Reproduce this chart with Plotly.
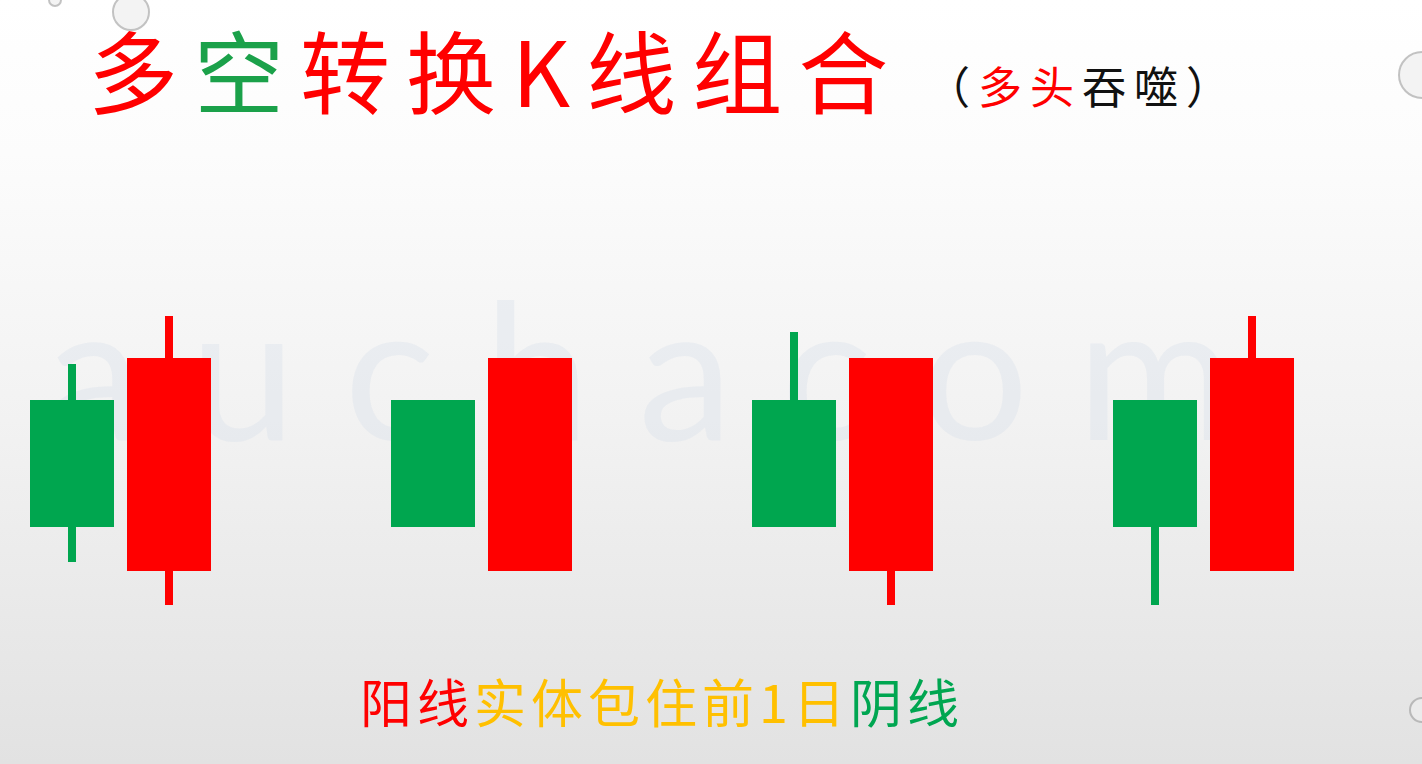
import plotly.graph_objects as go

# ---------------- data (price units) ----------------
pattern_ids = [1, 2, 3, 4]
# Day 1: bearish (阴线)
bear_open  = [30.0, 30.0, 30.0, 30.0]
bear_high  = [33.6, 30.0, 36.8, 30.0]
bear_low   = [13.8, 17.3, 17.3,  9.5]
bear_close = [17.3, 17.3, 17.3, 17.3]
# Day 2: bullish (阳线)
bull_open  = [12.9, 12.9, 12.9, 12.9]
bull_high  = [38.4, 34.2, 34.2, 38.4]
bull_low   = [ 9.5, 12.9,  9.5, 12.9]
bull_close = [34.2, 34.2, 34.2, 34.2]

title_parts = [("多", "#ff0000"), ("空", "#1ba14a"), ("转换K线组合", "#ff0000")]
subtitle_parts = [("（", "#111111"), ("多头", "#ff0000"), ("吞噬", "#111111"), ("）", "#111111")]
caption_parts = [("阳线", "#ff0000"), ("实体包住前1日", "#ffc000"), ("阴线", "#00a651")]
watermark = "a u c h a c o m"

# ---------------- layout constants ----------------
W, H = 1422, 764
PAIR_STEP = 3.7216          # distance between patterns, in day units
BODY_W = 0.866
WICK_W = 0.0825
X_RANGE = [-0.742, 13.918]
Y_RANGE = [-6.4, 70.0]
GREEN = "#00a64f"
RED = "#ff0000"

bear_x = [(k - 1) * PAIR_STEP for k in pattern_ids]
bull_x = [(k - 1) * PAIR_STEP + 1 for k in pattern_ids]

fig = go.Figure()

# background gradient (on the base axes, drawn underneath)
fig.add_trace(go.Scatter(
    x=[0, 1, 1, 0, 0], y=[0, 0, 1, 1, 0],
    mode="lines", line=dict(width=0), fill="toself",
    fillgradient=dict(type="vertical",
                      colorscale=[[0, "#e2e2e2"], [0.45, "#f2f2f2"], [0.8, "#fcfcfc"], [1, "#ffffff"]]),
    hoverinfo="skip", showlegend=False, xaxis="x", yaxis="y"))

# faint watermark behind the candles
fig.add_trace(go.Scatter(
    x=[640 / W], y=[1 - 392 / H], mode="text", text=[watermark],
    textfont=dict(family="Lato", size=190, color="rgba(215,224,234,0.38)"),
    textposition="middle center", hoverinfo="skip", showlegend=False,
    xaxis="x", yaxis="y"))

# decorative water droplets at the edges (pixel centres / diameters)
drop_px = [(131, 12, 36), (1422, 75, 46), (1422, 710, 24), (55, 0, 12)]
fig.add_trace(go.Scatter(
    x=[d[0] / W for d in drop_px], y=[1 - d[1] / H for d in drop_px], mode="markers",
    marker=dict(size=[d[2] for d in drop_px], color="rgba(238,238,238,0.95)",
                line=dict(color="rgba(150,150,150,0.8)", width=2)),
    cliponaxis=False, hoverinfo="skip", showlegend=False, xaxis="x", yaxis="y"))


def add_candles(xs, o, h, l, c, color):
    # wicks
    fig.add_trace(go.Bar(
        x=xs, base=l, y=[hi - lo for hi, lo in zip(h, l)], width=WICK_W,
        marker=dict(color=color, line=dict(width=0)), showlegend=False, hoverinfo="skip",
        xaxis="x2", yaxis="y2"))
    # bodies
    fig.add_trace(go.Bar(
        x=xs, base=[min(a, b) for a, b in zip(o, c)],
        y=[abs(a - b) for a, b in zip(o, c)], width=BODY_W,
        marker=dict(color=color, line=dict(width=0)), showlegend=False,
        customdata=list(zip(o, h, l, c)),
        hovertemplate="O %{customdata[0]}<br>H %{customdata[1]}<br>L %{customdata[2]}<br>C %{customdata[3]}<extra></extra>",
        xaxis="x2", yaxis="y2"))


add_candles(bear_x, bear_open, bear_high, bear_low, bear_close, GREEN)
add_candles(bull_x, bull_open, bull_high, bull_low, bull_close, RED)


def spans(parts, spacing):
    inner = "".join(f'<span style="color:{c}">{t}</span>' for t, c in parts)
    return f'<span style="letter-spacing:{spacing}px">{inner}</span>'


CJK = "Noto Sans CJK SC"
annotations = [
    dict(text=spans(title_parts, 16), x=86 / W, y=1 - 68 / H, xref="paper", yref="paper",
         showarrow=False, font=dict(family=CJK, size=90),
         xanchor="left", yanchor="middle"),
    dict(text=spans(subtitle_parts, 8), x=1082 / W, y=1 - 85 / H, xref="paper", yref="paper",
         showarrow=False, font=dict(family=CJK, size=44),
         xanchor="center", yanchor="middle"),
    dict(text=spans(caption_parts, 5), x=662 / W, y=1 - 700 / H, xref="paper", yref="paper",
         showarrow=False, font=dict(family=CJK, size=52),
         xanchor="center", yanchor="middle"),
]

fig.update_layout(
    width=W, height=H, margin=dict(l=0, r=0, t=0, b=0),
    paper_bgcolor="#ffffff", plot_bgcolor="#ffffff",
    barmode="overlay", bargap=0,
    xaxis=dict(range=[0, 1], visible=False, showgrid=False, zeroline=False, fixedrange=True),
    yaxis=dict(range=[0, 1], visible=False, showgrid=False, zeroline=False, fixedrange=True),
    xaxis2=dict(range=X_RANGE, overlaying="x", visible=False, showgrid=False, zeroline=False, fixedrange=True),
    yaxis2=dict(range=Y_RANGE, overlaying="y", visible=False, showgrid=False, zeroline=False, fixedrange=True),
    annotations=annotations, showlegend=False,
)

fig.write_html("out.html")
